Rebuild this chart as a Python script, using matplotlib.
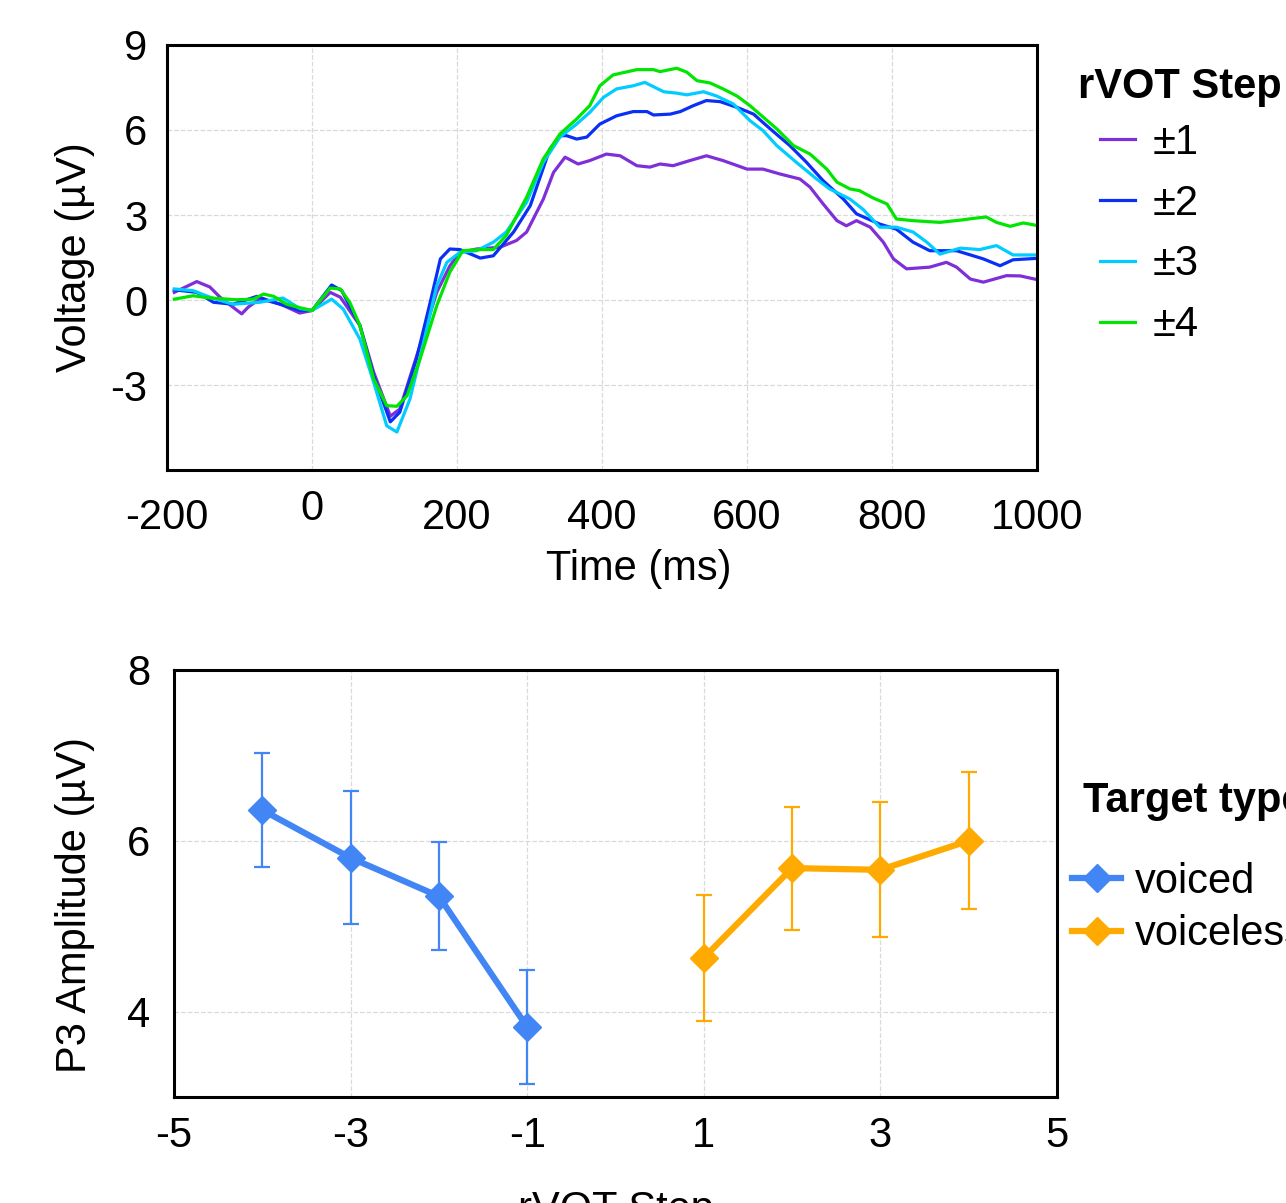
import matplotlib
matplotlib.use("Agg")
import matplotlib.pyplot as plt
from matplotlib.lines import Line2D
from matplotlib.transforms import ScaledTranslation

plt.rcParams['font.family'] = ['Liberation Sans', 'DejaVu Sans']

# ERP waveforms (time in ms, voltage in uV)
t_1 = [-190, -159, -141, -127, -97, -88, -72, -44, -17, 0, 25, 39, 66, 85, 108, 121, 149, 172, 190, 204,
       227, 259, 282, 296, 319, 333, 349, 367, 383, 406, 425, 448, 466, 480, 498, 521, 544, 567, 600, 622,
       645, 673, 687, 705, 724, 737, 751, 770, 788, 802, 820, 852, 875, 889, 908, 926, 958, 977, 1000]
v_1 = [0.27, 0.65, 0.46, 0.1, -0.49, -0.25, 0.04, -0.14, -0.46, -0.37, 0.27, 0.1, -0.9, -2.55, -4.1, -3.85, -1.6, 0.27, 1.2, 1.68,
       1.8, 1.86, 2.1, 2.4, 3.56, 4.5, 5.04, 4.8, 4.92, 5.15, 5.09, 4.74, 4.69, 4.8, 4.74, 4.92, 5.09, 4.92, 4.62, 4.62,
       4.45, 4.27, 3.98, 3.39, 2.8, 2.62, 2.8, 2.57, 2.04, 1.45, 1.1, 1.16, 1.33, 1.16, 0.74, 0.63, 0.86, 0.85, 0.72]

t_2 = [-190, -159, -136, -109, -76, -53, -17, 0, 27, 41, 66, 85, 108, 121, 144, 163, 177, 190, 204, 232,
       250, 278, 301, 328, 342, 351, 365, 379, 397, 420, 443, 462, 471, 494, 508, 526, 544, 563, 586, 609,
       632, 659, 682, 705, 733, 751, 783, 806, 829, 852, 889, 926, 949, 967, 1000]
v_2 = [0.36, 0.27, -0.08, -0.15, 0.13, -0.08, -0.37, -0.37, 0.53, 0.33, -0.9, -2.67, -4.3, -3.96, -2.08, -0.08, 1.45, 1.8, 1.78, 1.48,
       1.56, 2.4, 3.33, 5.33, 5.8, 5.8, 5.68, 5.75, 6.21, 6.5, 6.65, 6.65, 6.53, 6.56, 6.65, 6.86, 7.04, 7.0, 6.8, 6.56,
       6.04, 5.45, 4.86, 4.21, 3.56, 3.04, 2.68, 2.5, 2.04, 1.74, 1.74, 1.45, 1.21, 1.42, 1.47]

t_3 = [-190, -164, -141, -109, -72, -40, -17, 0, 27, 43, 66, 85, 103, 117, 135, 153, 172, 186, 204, 227,
       250, 268, 296, 319, 342, 365, 383, 402, 420, 443, 459, 485, 503, 517, 540, 558, 581, 604, 622, 641,
       668, 696, 714, 742, 760, 783, 806, 829, 848, 866, 894, 921, 944, 967, 1000]
v_3 = [0.39, 0.33, 0.1, -0.15, -0.08, 0.07, -0.3, -0.37, 0.03, -0.32, -1.38, -2.9, -4.44, -4.66, -3.5, -1.6, 0.5, 1.33, 1.68, 1.74,
       2.04, 2.4, 3.45, 4.86, 5.75, 6.21, 6.62, 7.15, 7.45, 7.56, 7.68, 7.35, 7.3, 7.24, 7.35, 7.2, 6.92, 6.33, 5.98, 5.45,
       4.86, 4.27, 3.92, 3.56, 3.2, 2.57, 2.57, 2.4, 2.04, 1.62, 1.83, 1.78, 1.92, 1.59, 1.59]

t_4 = [-190, -164, -141, -104, -81, -67, -53, -35, -17, 0, 25, 39, 52, 66, 85, 103, 117, 131, 149, 172,
       190, 208, 232, 250, 268, 296, 319, 342, 365, 383, 397, 415, 425, 448, 471, 480, 503, 517, 531, 549,
       567, 586, 604, 622, 641, 664, 687, 710, 724, 742, 755, 774, 793, 806, 829, 866, 898, 912, 930, 944,
       963, 981, 1000]
v_4 = [0.03, 0.15, 0.07, 0.01, 0.03, 0.21, 0.13, -0.15, -0.27, -0.37, 0.42, 0.39, -0.08, -0.9, -2.78, -3.73, -3.75, -3.38, -2.08, -0.2,
       0.98, 1.74, 1.78, 1.78, 2.28, 3.63, 4.98, 5.86, 6.39, 6.86, 7.56, 7.94, 8.0, 8.13, 8.13, 8.06, 8.18, 8.04, 7.74, 7.66,
       7.45, 7.2, 6.86, 6.46, 6.04, 5.45, 5.15, 4.62, 4.16, 3.92, 3.86, 3.6, 3.39, 2.86, 2.8, 2.74, 2.83, 2.88, 2.93, 2.74,
       2.6, 2.72, 2.63]

step_labels = ['±1', '±2', '±3', '±4']
step_colors = ['#7f2fd8', '#0a2ff5', '#00ccff', '#00e600']

# P3 amplitude per rVOT step
voiced_x = [-4, -3, -2, -1]
voiced_y = [6.36, 5.80, 5.35, 3.82]
voiced_err = [0.67, 0.78, 0.63, 0.67]
voiceless_x = [1, 2, 3, 4]
voiceless_y = [4.63, 5.68, 5.66, 6.00]
voiceless_err = [0.74, 0.72, 0.79, 0.80]

FS = 30
W, H = 1286, 1203
fig = plt.figure(figsize=(W / 100, H / 100), dpi=100)

# ---- top panel: waveforms
ax1 = fig.add_axes([0.1299, 0.6093, 0.6765, 0.3533])
lines = []
for t, v, c, lab in zip([t_1, t_2, t_3, t_4], [v_1, v_2, v_3, v_4], step_colors, step_labels):
    lines += ax1.plot(t, v, color=c, lw=2.3, label=lab)
ax1.set_xlim(-200, 1000)
ax1.set_ylim(-6, 9)
ax1.set_xticks(range(-200, 1001, 200))
ax1.set_yticks([-3, 0, 3, 6, 9])
ax1.set_yticklabels(['-3', '0', '3', '6', '9'])
ax1.set_xticklabels(['-200', '0', '200', '400', '600', '800', '1000'])
ax1.tick_params(axis='x', pad=20)
ax1.tick_params(axis='y', pad=14)
ax1.set_xlabel('Time (ms)', fontsize=FS, labelpad=8)
ax1.xaxis.label.set_x(0.5425)
ax1.set_ylabel('Voltage (µV)', fontsize=FS)
ax1.yaxis.set_label_coords(-0.083, 0.5)

fig.text(1078 / W, 1 - 98 / H, 'rVOT Step', fontsize=FS, fontweight='bold', va='baseline')
fig.legend(lines, step_labels, loc='center left', bbox_to_anchor=(1100 / W, 1 - 234 / H),
           bbox_transform=fig.transFigure, frameon=False, fontsize=FS, handlelength=0.84,
           handletextpad=0.42, labelspacing=0.5, borderpad=0, borderaxespad=0)

# ---- bottom panel: P3 amplitude
ax2 = fig.add_axes([0.1353, 0.0881, 0.6866, 0.3550])
ax2.errorbar(voiced_x, voiced_y, yerr=voiced_err, color='#4285f4', lw=4.5, marker='D', ms=14,
             elinewidth=1.6, capsize=5.5, capthick=1.6)
ax2.errorbar(voiceless_x, voiceless_y, yerr=voiceless_err, color='#ffaa00', lw=4.5, marker='D', ms=14,
             elinewidth=1.6, capsize=5.5, capthick=1.6)
ax2.set_xlim(-5, 5)
ax2.set_ylim(3, 8)
ax2.set_xticks([-5, -3, -1, 1, 3, 5])
ax2.set_xticklabels(['-5', '-3', '-1', '1', '3', '5'])
ax2.set_yticks([4, 6, 8])
ax2.tick_params(axis='x', pad=14)
ax2.tick_params(axis='y', pad=17)
ax2.set_xlabel('rVOT Step', fontsize=FS, labelpad=24)
ax2.set_ylabel('P3 Amplitude (µV)', fontsize=FS)
ax2.yaxis.set_label_coords(-0.0895, 0.45)

fig.text(1083 / W, 1 - 812 / H, 'Target type', fontsize=FS, fontweight='bold', va='baseline')
handles = [Line2D([], [], color='#4285f4', lw=4.5, marker='D', ms=14),
           Line2D([], [], color='#ffaa00', lw=4.5, marker='D', ms=14)]
fig.legend(handles, ['voiced', 'voiceless'], loc='center left', bbox_to_anchor=(1072 / W, 1 - 908 / H),
           bbox_transform=fig.transFigure, frameon=False, fontsize=FS, handlelength=1.18,
           handletextpad=0.34, labelspacing=0.3, borderpad=0, borderaxespad=0)

for ax in (ax1, ax2):
    ax.grid(True, color='#d9d9d9', ls='--', lw=0.9)
    ax.set_axisbelow(True)
    ax.tick_params(length=0, labelsize=FS)
    for s in ax.spines.values():
        s.set_linewidth(2.2)
        s.set_color('black')

# the "0" label sits a little higher than its neighbours in the original
zero_lbl = ax1.get_xticklabels()[1]
zero_lbl.set_transform(zero_lbl.get_transform() + ScaledTranslation(0, 6 / 72, fig.dpi_scale_trans))

fig.savefig('out.png', dpi=100)
